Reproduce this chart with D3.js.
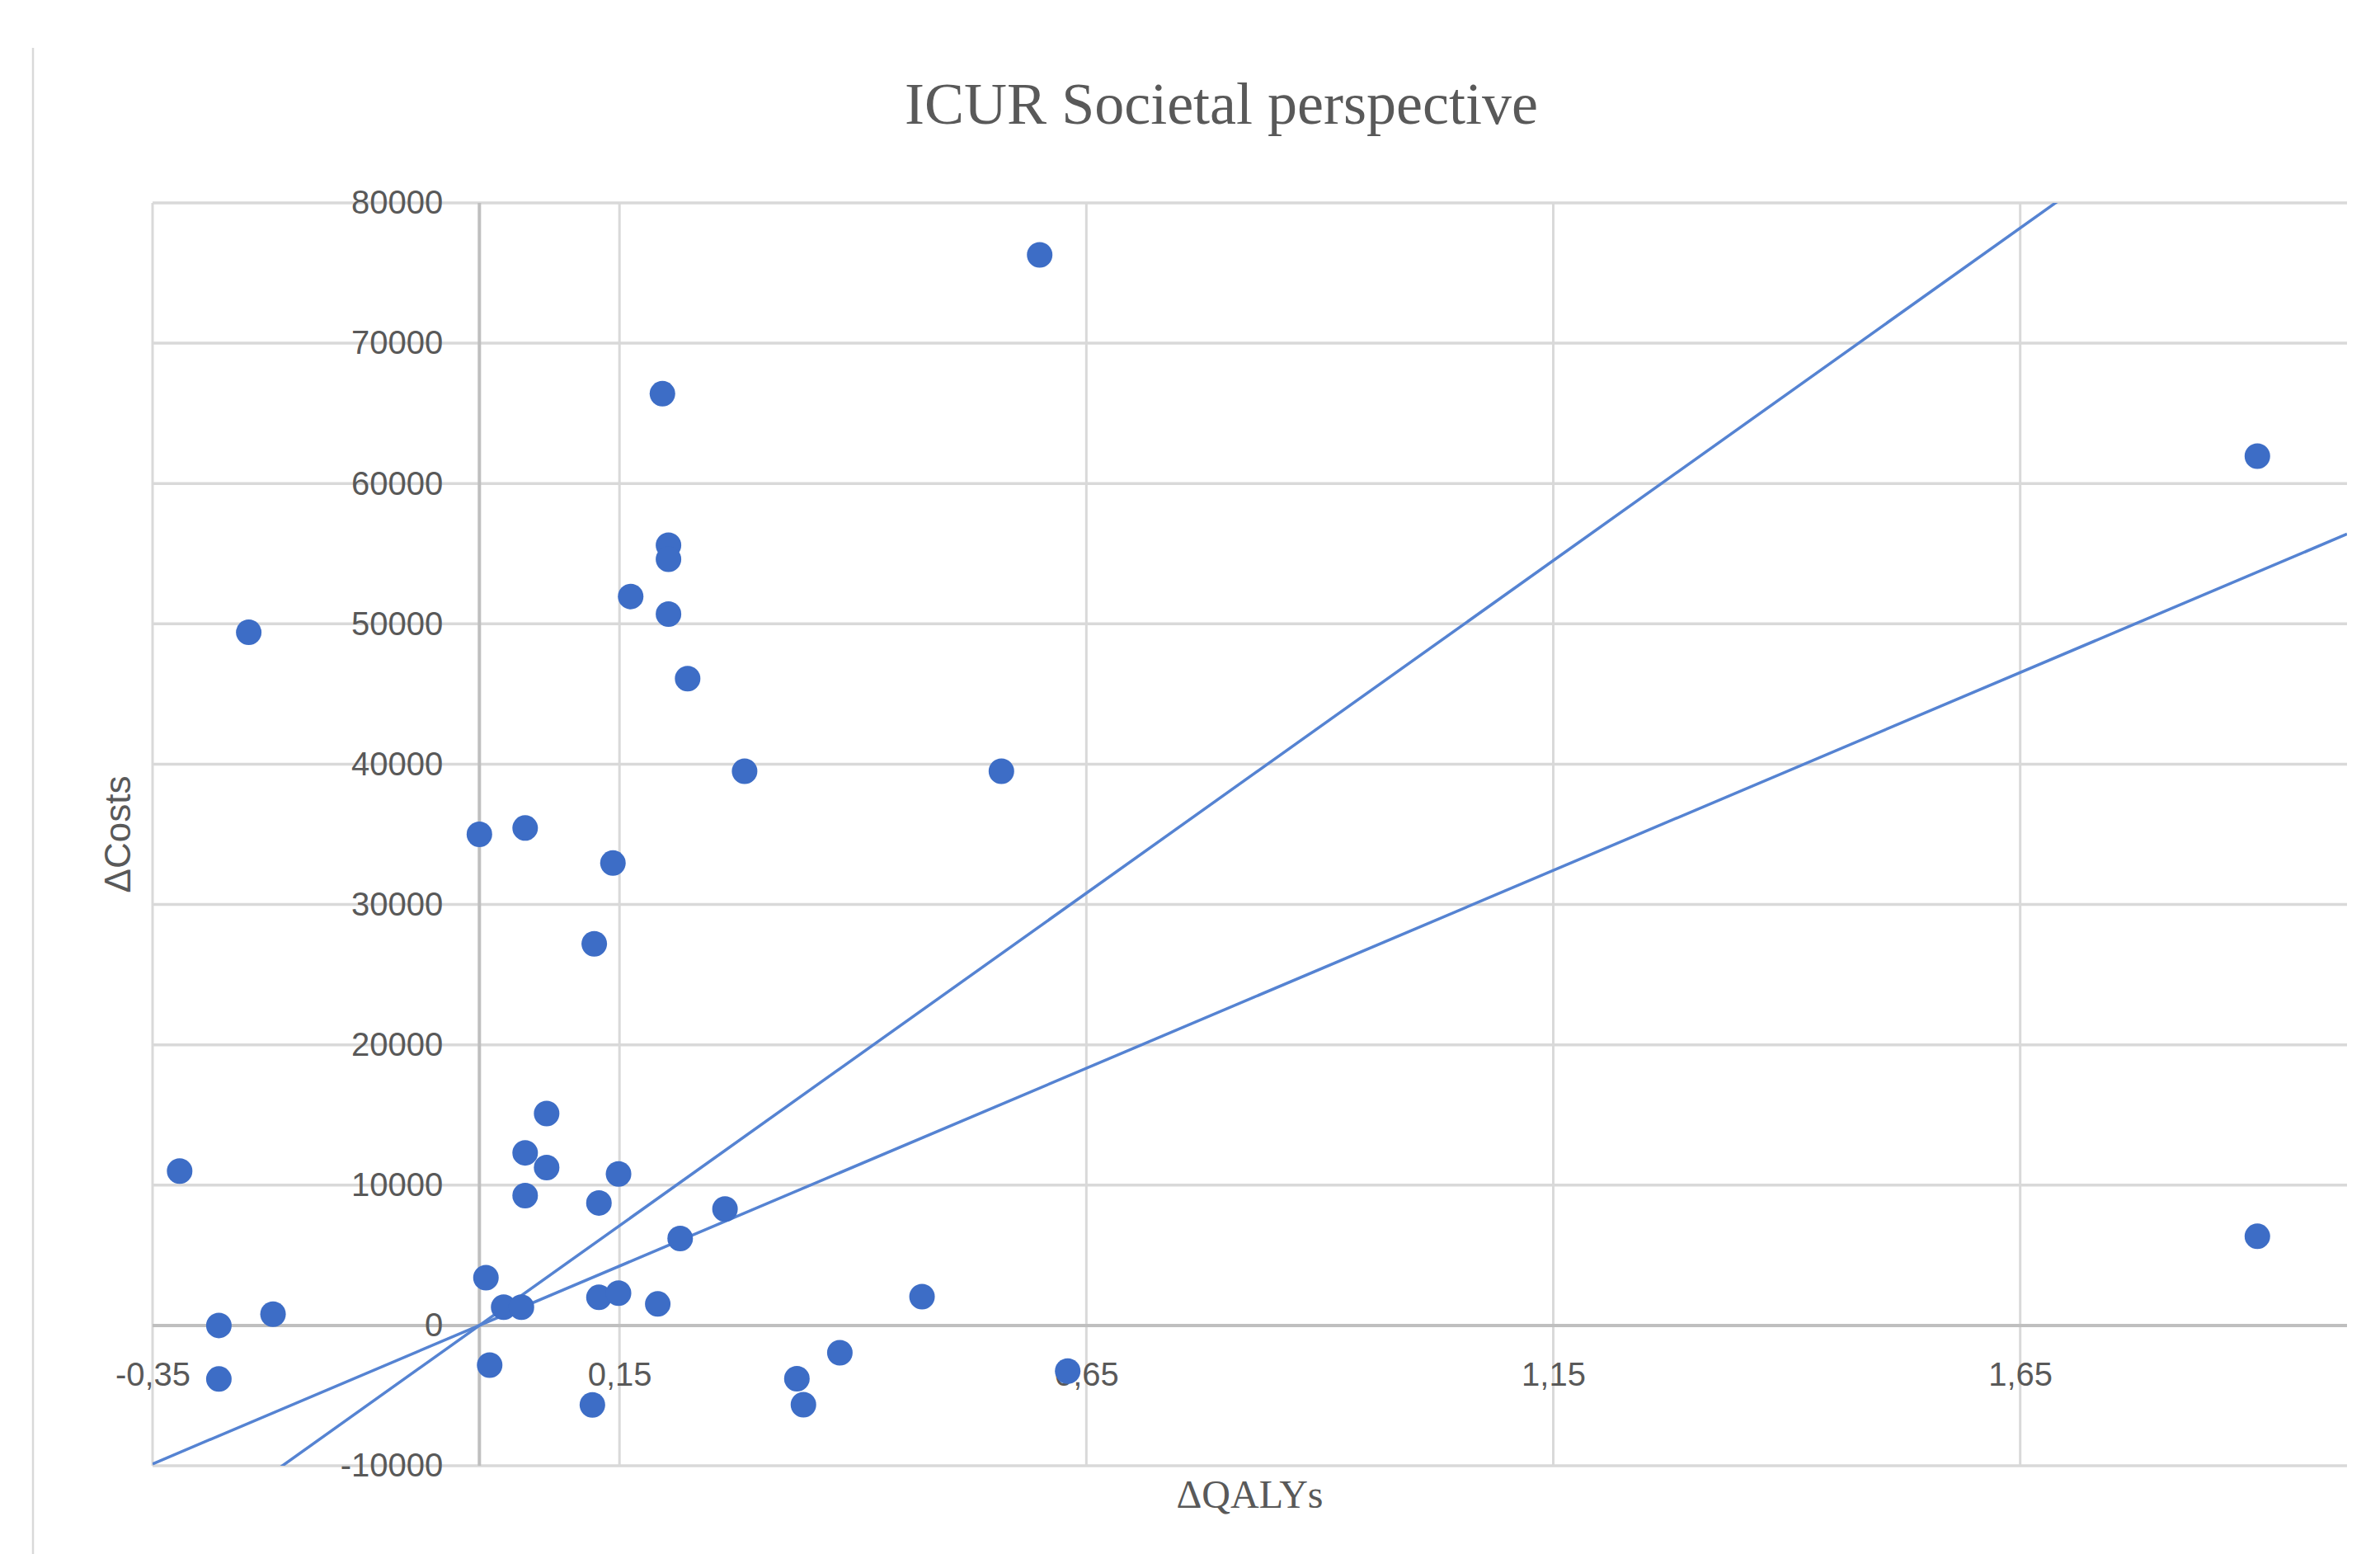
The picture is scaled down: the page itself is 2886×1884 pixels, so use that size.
<!DOCTYPE html>
<html>
<head>
<meta charset="utf-8">
<script src="https://cdn.jsdelivr.net/npm/d3@7"></script>
<style>
  html, body { margin: 0; padding: 0; background: #ffffff; }
  svg { display: block; }
</style>
</head>
<body>
<svg id="chart" width="2886" height="1884"></svg>
<script>
// ---------------- data ----------------
const chartTitle = "ICUR Societal perspective";
const xTitle = "ΔQALYs";
const yTitle = "ΔCosts";

// ΔQALYs (x) and ΔCosts (y) of each study point
const deltaQALYs = [
  -0.321, -0.279, -0.279, -0.247, -0.221,
   0.000,  0.007,  0.011,  0.026,  0.045,
   0.049,  0.049,  0.049,  0.072,  0.072,
   0.121,  0.123,  0.128,  0.128,  0.143,
   0.149,  0.149,  0.162,  0.191,  0.196,
   0.2025, 0.2025, 0.2025, 0.215,  0.223,
   0.263,  0.284,  0.340,  0.347,  0.386,
   0.474,  0.559,  0.600,  0.630,  1.904,
   1.904
];
const deltaCosts = [
  11000,     0, -3820, 49400,   800,
  35000,  3400, -2830,  1300,  1300,
  35450, 12300,  9250, 15100, 11250,
  -5660, 27200,  8730,  2000, 32950,
   2300, 10800, 51950,  1530, 66400,
  55600, 54600, 50700,  6200, 46100,
   8300, 39500, -3800, -5650, -1950,
   2050, 39500, 76300, -3250, 61950,
   6350
];

// willingness-to-pay threshold lines through the origin (cost per QALY)
const thresholdSlopes = [47400, 28200];

// axes
const xDomain = [-0.35, 2.0];
const yDomain = [-10000, 80000];
const xTickValues = [-0.35, 0.15, 0.65, 1.15, 1.65];
const xTickLabels = ["-0,35", "0,15", "0,65", "1,15", "1,65"];
const yTickValues = [-10000, 0, 10000, 20000, 30000, 40000, 50000, 60000, 70000, 80000];
const yTickLabels = ["-10000", "0", "10000", "20000", "30000", "40000", "50000", "60000", "70000", "80000"];

// ---------------- drawing ----------------
const svg = d3.select("#chart");
const plot = { left: 185, right: 2846, top: 246, bottom: 1777 };

const x = d3.scaleLinear().domain(xDomain).range([plot.left, plot.right]);
const y = d3.scaleLinear().domain(yDomain).range([plot.bottom, plot.top]);

const gridColor = "#d9d9d9";
const axisColor = "#bfbfbf";
const textColor = "#595959";
const dotColor = "#3d6dc6";
const lineColor = "#5583d2";

// chart frame left border
svg.append("line")
  .attr("x1", 40).attr("x2", 40)
  .attr("y1", 58).attr("y2", 1884)
  .attr("stroke", "#d9d9d9").attr("stroke-width", 2.5);

// horizontal gridlines
svg.append("g").selectAll("line")
  .data(yTickValues.filter(v => v !== 0))
  .join("line")
  .attr("x1", plot.left).attr("x2", plot.right)
  .attr("y1", d => y(d)).attr("y2", d => y(d))
  .attr("stroke", gridColor).attr("stroke-width", 3.5);

// vertical gridlines
svg.append("g").selectAll("line")
  .data(xTickValues)
  .join("line")
  .attr("x1", d => x(d)).attr("x2", d => x(d))
  .attr("y1", plot.top).attr("y2", plot.bottom)
  .attr("stroke", gridColor).attr("stroke-width", 3);

// axis lines crossing at the origin
svg.append("line")
  .attr("x1", plot.left).attr("x2", plot.right)
  .attr("y1", y(0)).attr("y2", y(0))
  .attr("stroke", axisColor).attr("stroke-width", 4);
svg.append("line")
  .attr("x1", x(0)).attr("x2", x(0))
  .attr("y1", plot.top).attr("y2", plot.bottom)
  .attr("stroke", axisColor).attr("stroke-width", 4);

// y axis labels (next to the vertical axis at x = 0)
const yAxis = d3.axisLeft(y)
  .tickValues(yTickValues)
  .tickFormat((d, i) => yTickLabels[i])
  .tickSize(0)
  .tickPadding(44);
const gy = svg.append("g")
  .attr("transform", `translate(${x(0)},0)`)
  .call(yAxis);
gy.select(".domain").remove();
gy.selectAll("text")
  .attr("fill", textColor)
  .style("font-family", "'Liberation Sans', Arial, sans-serif")
  .style("font-size", "40px");

// x axis labels (below the horizontal axis at y = 0)
const xAxis = d3.axisBottom(x)
  .tickValues(xTickValues)
  .tickFormat((d, i) => xTickLabels[i])
  .tickSize(0);
const gx = svg.append("g")
  .attr("transform", `translate(0,${y(0)})`)
  .call(xAxis);
gx.select(".domain").remove();
gx.selectAll("text")
  .attr("y", 59).attr("dy", "0.35em")
  .attr("fill", textColor)
  .style("font-family", "'Liberation Sans', Arial, sans-serif")
  .style("font-size", "40px");

// clip for threshold lines
svg.append("clipPath").attr("id", "plotClip")
  .append("rect")
  .attr("x", plot.left).attr("y", plot.top)
  .attr("width", plot.right - plot.left)
  .attr("height", plot.bottom - plot.top);

const lineGen = d3.line().x(d => x(d[0])).y(d => y(d[1]));
svg.append("g").attr("clip-path", "url(#plotClip)")
  .selectAll("path")
  .data(thresholdSlopes)
  .join("path")
  .attr("d", s => lineGen(xDomain.map(v => [v, s * v])))
  .attr("fill", "none")
  .attr("stroke", lineColor)
  .attr("stroke-width", 3.5);

// scatter points
svg.append("g").selectAll("circle")
  .data(deltaQALYs.map((q, i) => [q, deltaCosts[i]]))
  .join("circle")
  .attr("cx", d => x(d[0]))
  .attr("cy", d => y(d[1]))
  .attr("r", 15.5)
  .attr("fill", dotColor);

// titles
svg.append("text")
  .attr("x", 1481).attr("y", 150)
  .attr("text-anchor", "middle")
  .attr("fill", textColor)
  .style("font-family", "'Liberation Serif', 'Times New Roman', serif")
  .style("font-size", "72px")
  .text(chartTitle);

svg.append("text")
  .attr("x", (plot.left + plot.right) / 2).attr("y", 1828)
  .attr("text-anchor", "middle")
  .attr("fill", textColor)
  .style("font-family", "'Liberation Serif', 'Times New Roman', serif")
  .style("font-size", "48px")
  .text(xTitle);

svg.append("text")
  .attr("transform", `translate(158,${(plot.top + plot.bottom) / 2}) rotate(-90)`)
  .attr("text-anchor", "middle")
  .attr("fill", textColor)
  .style("font-family", "'Liberation Sans', Arial, sans-serif")
  .style("font-size", "44px")
  .text(yTitle);
</script>
</body>
</html>
